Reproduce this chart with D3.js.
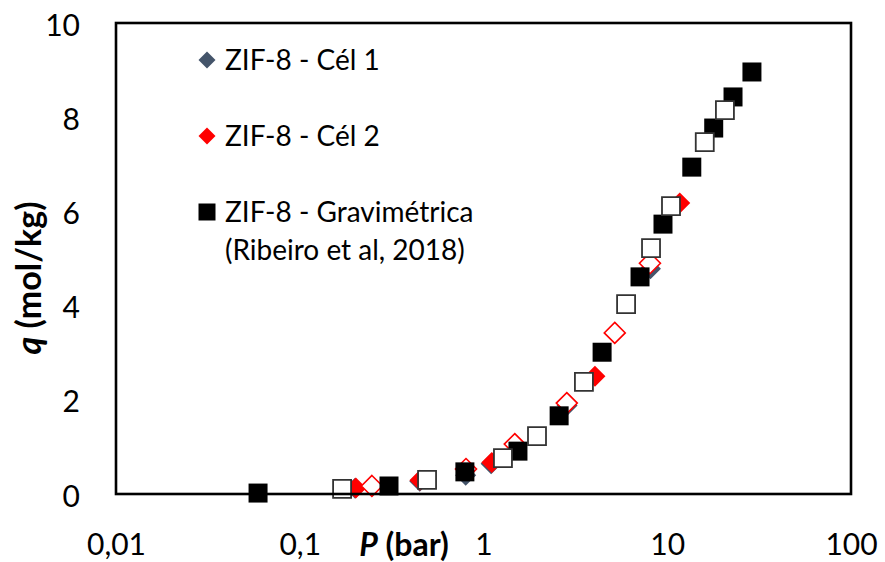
<!DOCTYPE html>
<html>
<head>
<meta charset="utf-8">
<script src="https://cdn.jsdelivr.net/npm/d3@7"></script>
<style>
  html, body { margin: 0; padding: 0; background: #fff; }
  svg { display: block; font-family: Lato, "Open Sans", sans-serif; }
</style>
</head>
<body>
<svg id="chart" width="885" height="562"></svg>
<script>
// ZIF-8 adsorption isotherm: q (mol/kg) vs P (bar), log pressure axis

// Axis ticks
const xTickValues = [0.01, 0.1, 1, 10, 100];
const xTickLabels = ["0,01", "0,1", "1", "10", "100"];
const yTickValues = [0, 2, 4, 6, 8, 10];

// Cél 1 (mostly hidden under the other series)
const cel1P = [0.20, 0.45, 0.80, 1.10, 2.85, 8.1];
const cel1Q = [0.12, 0.27, 0.40, 0.64, 1.88, 4.78];

// Cél 2 – adsorption (filled) and desorption (open)
const cel2AdsP = [0.202, 0.451, 1.11, 4.04, 11.7];
const cel2AdsQ = [0.13, 0.29, 0.67, 2.50, 6.18];
const cel2DesP = [0.247, 0.803, 1.48, 2.84, 5.18, 8.05];
const cel2DesQ = [0.17, 0.53, 1.06, 1.93, 3.42, 4.90];

// Gravimetric reference (Ribeiro et al, 2018) – adsorption (filled) and desorption (open)
const gravAdsP = [0.0593, 0.306, 0.792, 1.54, 2.58, 4.42, 7.11, 9.48, 13.6, 17.9, 22.8, 28.9];
const gravAdsQ = [0.02, 0.17, 0.47, 0.91, 1.66, 3.01, 4.61, 5.73, 6.94, 7.77, 8.43, 8.96];
const gravDesP = [0.170, 0.493, 1.276, 1.955, 3.52, 5.97, 8.16, 10.48, 16.0, 20.6];
const gravDesQ = [0.11, 0.30, 0.76, 1.23, 2.38, 4.03, 5.22, 6.11, 7.47, 8.15];

const legendLabels = ["ZIF-8 - Cél 1", "ZIF-8 - Cél 2", "ZIF-8 - Gravimétrica", "(Ribeiro et al, 2018)"];

const svg = d3.select("#chart");
const plot = { left: 116, right: 851, top: 23, bottom: 494 };

const x = d3.scaleLog().domain([0.01, 100]).range([plot.left, plot.right]);
const y = d3.scaleLinear().domain([0, 10]).range([plot.bottom, plot.top]);

const zip = (a, b) => a.map((v, i) => [v, b[i]]);

const tickFont = 30;

// X axis labels
const xAxis = d3.axisBottom(x)
  .tickValues(xTickValues)
  .tickFormat((d, i) => xTickLabels[i])
  .tickSize(0)
  .tickPadding(40);
const gx = svg.append("g").attr("transform", `translate(0,${plot.bottom})`).call(xAxis);
gx.select(".domain").remove();
gx.selectAll("text").attr("font-size", tickFont).attr("font-family", "Lato").attr("fill", "#000");

// Y axis labels
const yAxis = d3.axisLeft(y)
  .tickValues(yTickValues)
  .tickSize(0)
  .tickPadding(36);
const gy = svg.append("g").attr("transform", `translate(${plot.left},0)`).call(yAxis);
gy.select(".domain").remove();
gy.selectAll("text").attr("font-size", tickFont).attr("font-family", "Lato").attr("fill", "#000").attr("dy", "0.4em");

// Marker shapes
function diamondPath(half) {
  return `M0,${-half}L${half},0L0,${half}L${-half},0Z`;
}
function squarePath(half) {
  return `M${-half},${-half}H${half}V${half}H${-half}Z`;
}

const marks = svg.append("g");

function drawSeries(data, path, fill, stroke, sw) {
  marks.append("g").selectAll("path").data(data).join("path")
    .attr("transform", d => `translate(${x(d[0])},${y(d[1])})`)
    .attr("d", path)
    .attr("fill", fill)
    .attr("stroke", stroke)
    .attr("stroke-width", sw);
}

drawSeries(zip(cel1P, cel1Q), diamondPath(10.5), "#44546A", "none", 0);
drawSeries(zip(cel2AdsP, cel2AdsQ), diamondPath(10.5), "#FF0000", "none", 0);
drawSeries(zip(cel2DesP, cel2DesQ), diamondPath(10.5), "#FFFFFF", "#FF0000", 1.6);
drawSeries(zip(gravAdsP, gravAdsQ), squarePath(9.5), "#000000", "none", 0);
drawSeries(zip(gravDesP, gravDesQ), squarePath(9), "#FFFFFF", "#333333", 1.8);

// Plot frame
svg.append("rect")
  .attr("x", plot.left).attr("y", plot.top)
  .attr("width", plot.right - plot.left).attr("height", plot.bottom - plot.top)
  .attr("fill", "none").attr("stroke", "#000").attr("stroke-width", 2.6);

// Axis titles
const xt = svg.append("text")
  .attr("x", 404).attr("y", 556)
  .attr("text-anchor", "middle")
  .attr("font-size", 32).attr("font-weight", "bold").attr("fill", "#000");
xt.append("tspan").attr("font-style", "italic").text("P");
xt.append("tspan").text(" (bar)");

const yt = svg.append("text")
  .attr("transform", "translate(41,278) rotate(-90)")
  .attr("text-anchor", "middle")
  .attr("font-size", 34).attr("font-weight", "bold").attr("fill", "#000");
yt.append("tspan").attr("font-style", "italic").text("q");
yt.append("tspan").text(" (mol/kg)");

// Legend
const legendFont = 28;
const legend = svg.append("g");
const legendItems = [
  { y: 60, path: diamondPath(8.5), fill: "#44546A" },
  { y: 136, path: diamondPath(8.5), fill: "#FF0000" },
  { y: 212, path: squarePath(8.5), fill: "#000000" }
];
legendItems.forEach((it, i) => {
  legend.append("path")
    .attr("transform", `translate(207,${it.y})`)
    .attr("d", it.path).attr("fill", it.fill);
  legend.append("text")
    .attr("x", 225).attr("y", it.y).attr("dy", "0.36em")
    .attr("font-size", legendFont).attr("fill", "#000")
    .text(legendLabels[i]);
});
legend.append("text")
  .attr("x", 225).attr("y", 250).attr("dy", "0.36em")
  .attr("font-size", legendFont).attr("fill", "#000")
  .text(legendLabels[3]);
</script>
</body>
</html>
